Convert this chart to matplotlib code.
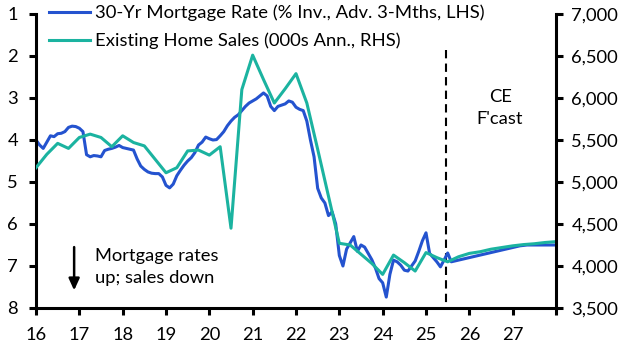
import matplotlib
matplotlib.use("Agg")
import matplotlib.pyplot as plt
from matplotlib.ticker import FuncFormatter

# ---------------- data ----------------
# 30-Yr mortgage rate (% inverted, advanced 3 months), monthly from Jan 2016
mortgage_start = 16.0
mortgage_rate = [
    4.00, 4.12, 4.20, 4.05, 3.90, 3.92, 3.85, 3.84, 3.80, 3.70, 3.67, 3.68,   # 2016
    3.72, 3.80, 4.35, 4.40, 4.37, 4.38, 4.40, 4.25, 4.22, 4.20, 4.17, 4.13,   # 2017
    4.18, 4.20, 4.22, 4.24, 4.45, 4.62, 4.70, 4.76, 4.79, 4.80, 4.80, 4.88,   # 2018
    5.08, 5.14, 5.05, 4.85, 4.72, 4.60, 4.50, 4.42, 4.30, 4.12, 4.05, 3.93,   # 2019
    3.97, 4.00, 3.99, 3.90, 3.80, 3.66, 3.55, 3.46, 3.40, 3.30, 3.20, 3.12,   # 2020
    3.07, 3.02, 2.95, 2.88, 2.95, 3.20, 3.30, 3.20, 3.17, 3.14, 3.07, 3.10,   # 2021
    3.22, 3.27, 3.30, 3.55, 4.00, 4.40, 5.15, 5.38, 5.50, 5.80, 5.71, 6.00,   # 2022
    6.75, 7.00, 6.60, 6.45, 6.30, 6.65, 6.50, 6.55, 6.70, 6.85, 7.05, 7.30,   # 2023
    7.40, 7.74, 7.20, 6.86, 6.90, 6.98, 7.10, 7.12, 7.00, 6.88, 6.65, 6.40,   # 2024
    6.21, 6.70, 6.80, 6.90, 7.02, 6.86, 6.69, 6.90, 6.88, 6.86, 6.84, 6.82,   # 2025
    6.80, 6.78, 6.76, 6.74, 6.72, 6.70, 6.68, 6.66, 6.64, 6.62, 6.60, 6.58,   # 2026
    6.56, 6.54, 6.52, 6.51, 6.50, 6.50, 6.50, 6.50, 6.50, 6.50, 6.50, 6.50,   # 2027
    6.50,
]

# Existing home sales (000s annualised), quarterly from 2016
sales_start = 16.0
home_sales = [
    5170, 5330, 5460, 5400,   # 2016
    5530, 5570, 5530, 5420,   # 2017
    5550, 5470, 5430, 5270,   # 2018
    5110, 5170, 5370, 5380,   # 2019
    5320, 5420, 4450, 6100,   # 2020
    6510, 6220, 5940, 6110,   # 2021
    6290, 5940, 5390, 4830,   # 2022
    4270, 4250, 4140, 4030,   # 2023
    3900, 4130, 4040, 3940,   # 2024
    4160, 4100, 4050, 4110,   # 2025
    4150, 4170, 4200, 4220,   # 2026
    4240, 4255, 4265, 4280,   # 2027
    4290,
]

x_ticks = list(range(16, 29))
x_tick_labels = [str(t) for t in range(16, 28)] + [""]
left_ticks = [1, 2, 3, 4, 5, 6, 7, 8]
right_ticks = [3500, 4000, 4500, 5000, 5500, 6000, 6500, 7000]
forecast_start = 25.46

label_rate = "30-Yr Mortgage Rate (% Inv., Adv. 3-Mths, LHS)"
label_sales = "Existing Home Sales (000s Ann., RHS)"

# ---------------- style ----------------
FONT = "Lato"
plt.rcParams["font.family"] = [FONT, "DejaVu Sans"]
BLUE = "#2453CF"
TEAL = "#1BB3A0"
FS = 13.2
LFS = 13.3

fig = plt.figure(figsize=(6.28, 3.53), dpi=100)
ax = fig.add_axes([36 / 628, 1 - 308 / 353, (556 - 36) / 628, (308 - 14) / 353])
ax2 = ax.twinx()

mx = [mortgage_start + i / 12 for i in range(len(mortgage_rate))]
sx = [sales_start + i / 4 for i in range(len(home_sales))]

l1, = ax.plot(mx, mortgage_rate, color=BLUE, lw=2.2, solid_joinstyle="round")
l2, = ax2.plot(sx, home_sales, color=TEAL, lw=2.2, solid_joinstyle="round")

ax.set_xlim(16, 28)
ax.set_ylim(8, 1)
ax2.set_ylim(3500, 7000)
ax.set_xticks(x_ticks)
ax.set_xticklabels(x_tick_labels)
ax.set_yticks(left_ticks)
ax2.set_yticks(right_ticks)
ax2.yaxis.set_major_formatter(FuncFormatter(lambda v, p: f"{int(v):,}"))

for a in (ax, ax2):
    a.spines["top"].set_visible(False)
    for s in ("left", "right", "bottom"):
        a.spines[s].set_linewidth(2.2)
    a.tick_params(width=2.2, length=5, labelsize=FS, colors="black")
ax.spines["right"].set_visible(False)
ax2.spines["left"].set_visible(False)
ax2.spines["bottom"].set_visible(False)
ax.tick_params(axis="y", pad=8)
ax.tick_params(axis="x", pad=9)
ax2.tick_params(axis="y", pad=6)

# forecast divider
ax.plot([forecast_start, forecast_start], [1.86, 8], color="black", lw=1.5,
        ls=(0, (4, 2.5)), zorder=1)
ax.text(26.71, 3.24, "CE\nF'cast", ha="center", va="center", fontsize=FS,
        linespacing=1.45)

# annotation arrow
ax.annotate("", xy=(16.88, 7.58), xytext=(16.88, 6.55),
            arrowprops=dict(arrowstyle="-|>,head_width=0.32,head_length=0.7",
                            color="black", lw=1.8, shrinkA=0, shrinkB=0))
ax.text(17.36, 7.03, "Mortgage rates\nup; sales down", ha="left", va="center",
        fontsize=FS, linespacing=1.45)

leg = ax2.legend([l1, l2], [label_rate, label_sales], loc="upper left",
                 bbox_to_anchor=(0.0, 1.075), frameon=False, fontsize=LFS,
                 handlelength=2.2, handletextpad=0.3, labelspacing=0.62,
                 borderaxespad=0.3)

fig.savefig("out.png", dpi=100)
